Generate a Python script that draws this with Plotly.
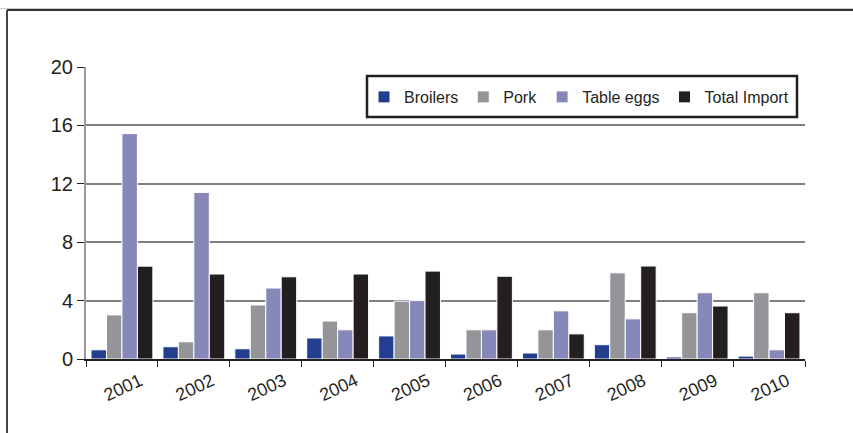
import plotly.graph_objects as go

years = ["2001", "2002", "2003", "2004", "2005", "2006", "2007", "2008", "2009", "2010"]
broilers = [0.63, 0.84, 0.70, 1.44, 1.58, 0.34, 0.41, 0.98, 0.14, 0.20]
pork = [3.02, 1.18, 3.70, 2.60, 3.96, 2.00, 2.00, 5.90, 3.17, 4.54]
table_eggs = [15.44, 11.41, 4.86, 2.00, 4.00, 2.00, 3.30, 2.75, 4.54, 0.63]
total_import = [6.36, 5.82, 5.63, 5.82, 6.02, 5.67, 1.72, 6.37, 3.63, 3.17]
y_ticks = [0, 4, 8, 12, 16, 20]

series = [
    ("Broilers", broilers, "#243e8f"),
    ("Pork", pork, "#939598"),
    ("Table eggs", table_eggs, "#8688b9"),
    ("Total Import", total_import, "#231f20"),
]

fig = go.Figure()
for name, vals, color in series:
    fig.add_trace(go.Bar(
        name=name, x=years, y=vals,
        marker=dict(color=color, line=dict(color="white", width=1)),
    ))

# plot area in pixels: x 86..805, y 67..359
L, R, T, B = 86, 48, 67, 74
W, H = 853 - L - R, 433 - T - B


def px(x):
    return (x - L) / W


def py(y):
    return (433 - B - y) / H


# outer frame (only top and left edges fall inside the page)
fig.add_shape(type="line", xref="paper", yref="paper",
              x0=px(0), x1=px(860), y0=py(8.6), y1=py(8.6),
              line=dict(color="#c8c8c8", width=1))
fig.add_shape(type="line", xref="paper", yref="paper",
              x0=px(7), x1=px(860), y0=py(10), y1=py(10),
              line=dict(color="#333333", width=2))
fig.add_shape(type="line", xref="paper", yref="paper",
              x0=px(7), x1=px(7), y0=py(10), y1=py(440),
              line=dict(color="#444444", width=2))

# legend frame
fig.add_shape(type="rect", xref="paper", yref="paper", layer="above",
              x0=px(367), x1=px(797), y0=py(76), y1=py(117),
              fillcolor="white", line=dict(color="#231f20", width=2.5))

fig.update_layout(
    width=853, height=433,
    margin=dict(l=L, r=R, t=T, b=B),
    paper_bgcolor="white", plot_bgcolor="white",
    barmode="group", bargap=0.14, bargroupgap=0.0,
    font=dict(family="Liberation Sans, Arial, sans-serif", color="#231f20"),
    showlegend=True,
    legend=dict(
        orientation="h", x=px(364), y=py(97), xanchor="left", yanchor="middle",
        borderwidth=0, bgcolor="rgba(0,0,0,0)",
        font=dict(size=16), traceorder="normal",
    ),
    xaxis=dict(
        type="category", tickangle=-25, tickfont=dict(size=18),
        ticks="outside", tickson="boundaries", ticklen=6, tickcolor="#231f20",
        showline=True, linecolor="#231f20", linewidth=1.5,
        showgrid=False, ticklabelshift=18, ticklabelstandoff=3,
    ),
    yaxis=dict(
        range=[0, 20], tickvals=y_ticks, tickfont=dict(size=20),
        ticks="outside", ticklen=7, tickcolor="#231f20",
        showline=True, linecolor="#999999", linewidth=2,
        showgrid=True, gridcolor="#7f7f7f", gridwidth=1.5,
        zeroline=False,
    ),
)

fig.write_html("out.html")
